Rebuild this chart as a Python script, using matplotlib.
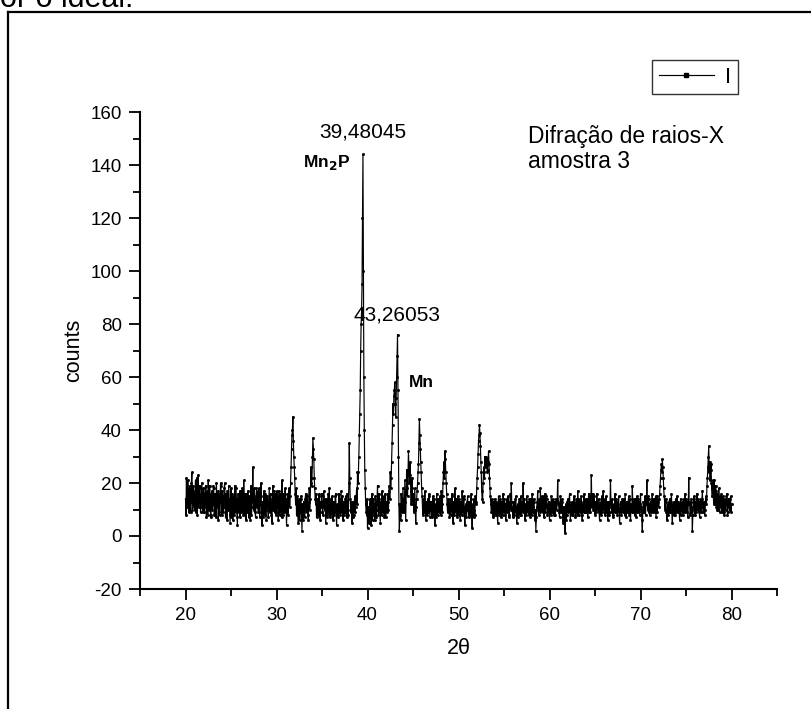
import numpy as np
import matplotlib
matplotlib.use("Agg")
import matplotlib.pyplot as plt
from matplotlib.lines import Line2D

plt.rcParams['font.family'] = ['Liberation Sans', 'DejaVu Sans']
plt.rcParams['axes.unicode_minus'] = False

# 2-theta grid start / step (degrees); readings every 0.05 deg
two_theta_start = 20.0
two_theta_step = 0.05

# intensity read at whole tenths (20.0, 20.1, ... 80.0), one row per degree
counts_tenths = [
    14, 22, 11, 17, 9, 19, 13, 24, 12, 16,
    10, 21, 15, 8, 23, 13, 18, 11, 20, 9,
    16, 12, 19, 7, 14, 21, 10, 15, 8, 17,
    12, 18, 9, 14, 20, 11, 6, 16, 13, 19,
    8, 15, 11, 20, 7, 13, 17, 10, 14, 5,
    18, 11, 6, 15, 19, 9, 13, 4, 16, 12,
    7, 17, 10, 14, 21, 8, 12, 16, 9, 13,
    15, 6, 19, 11, 26, 10, 14, 7, 18, 12,
    9, 16, 12, 20, 4, 13, 17, 8, 15, 11,
    14, 7, 18, 10, 13, 5, 19, 12, 9, 16,
    11, 15, 6, 17, 10, 13, 21, 8, 14, 12,
    9, 4, 16, 12, 18, 15, 26, 38, 45, 30,
    22, 12, 8, 15, 5, 11, 9, 14, 2, 10,
    13, 7, 16, 9, 12, 6, 18, 14, 26, 22,
    37, 29, 18, 12, 7, 14, 10, 16, 6, 11,
    13, 8, 17, 10, 5, 14, 9, 12, 18, 7,
    11, 15, 6, 13, 9, 16, 4, 12, 10, 14,
    8, 17, 11, 6, 13, 9, 15, 7, 12, 10,
    35, 14, 9, 5, 12, 8, 15, 11, 18, 24,
    24, 38, 55, 80, 95, 144, 60, 25, 12, 8,
    3, 11, 7, 14, 4, 16, 9, 12, 6, 13,
    10, 19, 8, 14, 5, 12, 17, 9, 15, 11,
    7, 13, 16, 10, 19, 24, 22, 35, 50, 53,
    58, 45, 60, 76, 30, 2, 12, 16, 9, 18,
    14, 21, 6, 25, 15, 32, 20, 28, 12, 22,
    16, 9, 18, 5, 14, 20, 27, 44, 33, 24,
    15, 8, 12, 17, 6, 11, 14, 9, 16, 10,
    13, 7, 15, 11, 4, 12, 16, 8, 14, 10,
    12, 17, 9, 20, 28, 32, 24, 16, 9, 13,
    7, 14, 10, 16, 5, 12, 18, 9, 11, 15,
    8, 13, 6, 11, 17, 9, 14, 4, 12, 10,
    15, 7, 12, 9, 16, 3, 11, 14, 8, 13,
    18, 26, 36, 42, 34, 24, 14, 20, 26, 30,
    26, 29, 25, 32, 22, 15, 9, 13, 7, 11,
    14, 8, 12, 5, 15, 10, 13, 7, 11, 16,
    9, 12, 6, 14, 10, 13, 8, 16, 20, 11,
    7, 13, 10, 15, 5, 12, 9, 14, 11, 8,
    13, 20, 10, 6, 12, 15, 9, 11, 14, 7,
    12, 16, 9, 13, 6, 2, 11, 17, 8, 14,
    18, 10, 15, 12, 7, 16, 11, 14, 9, 13,
    6, 12, 15, 9, 13, 8, 11, 14, 10, 21,
    12, 7, 15, 9, 13, 5, 10, 1, 12, 8,
    14, 10, 16, 6, 11, 13, 8, 15, 12, 9,
    11, 17, 8, 13, 10, 15, 6, 12, 16, 9,
    14, 11, 7, 16, 12, 9, 23, 13, 10, 15,
    8, 12, 16, 10, 14, 6, 11, 13, 9, 17,
    12, 8, 15, 10, 6, 13, 9, 21, 11, 14,
    7, 12, 16, 9, 13, 10, 15, 5, 11, 8,
    14, 10, 12, 16, 7, 13, 9, 15, 11, 6,
    12, 19, 9, 14, 11, 7, 15, 10, 13, 8,
    16, 11, 2, 13, 9, 15, 12, 21, 10, 14,
    8, 13, 11, 16, 9, 14, 12, 7, 15, 13,
    11, 16, 22, 27, 29, 22, 15, 10, 13, 6,
    12, 9, 14, 10, 16, 5, 11, 13, 8, 12,
    15, 9, 12, 6, 14, 10, 13, 8, 11, 16,
    10, 13, 7, 22, 12, 9, 14, 2, 11, 15,
    8, 12, 16, 10, 13, 7, 14, 11, 17, 9,
    13, 10, 15, 19, 26, 34, 28, 25, 20, 18,
    15, 21, 12, 17, 10, 14, 18, 9, 13, 16,
    11, 15, 8, 14, 12, 16, 9, 13, 10, 15,
    12,
]

# intensity read at the half-steps (20.05, 20.15, ... 79.95)
counts_halves = [
    8, 13, 21, 10, 18, 9, 20, 10, 19, 11,
    17, 9, 22, 14, 11, 19, 9, 16, 12, 18,
    9, 18, 11, 17, 8, 13, 19, 7, 16, 10,
    19, 8, 16, 7, 12, 17, 13, 8, 20, 9,
    17, 9, 18, 12, 16, 6, 11, 19, 8, 14,
    7, 16, 13, 8, 12, 18, 7, 14, 9, 17,
    14, 9, 18, 8, 12, 16, 6, 11, 17, 7,
    10, 15, 8, 17, 13, 18, 9, 15, 11, 17,
    18, 7, 15, 9, 11, 7, 10, 16, 6, 15,
    10, 13, 9, 16, 8, 14, 10, 17, 14, 8,
    17, 9, 14, 8, 16, 7, 12, 16, 9, 18,
    14, 10, 8, 17, 11, 20, 33, 40, 36, 26,
    16, 18, 13, 9, 14, 6, 15, 8, 12, 6,
    9, 14, 10, 15, 8, 13, 10, 20, 19, 30,
    33, 22, 14, 16, 11, 8, 15, 9, 13, 16,
    9, 15, 11, 14, 12, 7, 16, 8, 11, 14,
    8, 10, 12, 8, 15, 10, 11, 7, 16, 9,
    13, 9, 15, 12, 8, 14, 10, 16, 8, 20,
    22, 10, 13, 11, 7, 13, 9, 14, 12, 20,
    30, 46, 70, 85, 120, 100, 40, 18, 9, 14,
    8, 5, 12, 9, 11, 6, 14, 8, 15, 7,
    14, 12, 16, 9, 13, 8, 11, 14, 7, 16,
    12, 9, 13, 17, 14, 18, 28, 42, 46, 55,
    50, 52, 68, 55, 12, 8, 6, 11, 14, 10,
    9, 13, 16, 18, 24, 26, 23, 17, 18, 13,
    12, 14, 10, 11, 17, 24, 35, 38, 28, 18,
    10, 14, 9, 11, 13, 8, 10, 15, 7, 13,
    9, 12, 8, 14, 10, 7, 11, 12, 9, 15,
    8, 12, 15, 24, 22, 29, 20, 12, 14, 10,
    12, 8, 15, 9, 13, 8, 11, 14, 7, 10,
    14, 9, 13, 8, 10, 15, 8, 11, 7, 13,
    10, 13, 8, 14, 9, 12, 7, 10, 15, 12,
    22, 31, 38, 39, 28, 17, 13, 24, 22, 27,
    30, 24, 28, 27, 18, 12, 14, 9, 13, 8,
    10, 13, 9, 12, 8, 14, 9, 13, 8, 12,
    14, 8, 11, 9, 15, 7, 12, 10, 13, 8,
    11, 8, 14, 9, 11, 7, 13, 8, 15, 12,
    9, 12, 14, 10, 8, 11, 13, 8, 10, 14,
    8, 11, 14, 9, 10, 7, 13, 10, 12, 9,
    12, 14, 9, 15, 11, 9, 15, 8, 12, 10,
    10, 8, 11, 14, 9, 13, 8, 12, 14, 13,
    9, 12, 10, 14, 8, 11, 7, 9, 6, 13,
    9, 13, 10, 12, 8, 10, 13, 9, 7, 14,
    8, 11, 14, 9, 13, 8, 11, 9, 10, 13,
    9, 14, 12, 9, 15, 13, 11, 16, 12, 9,
    13, 9, 11, 13, 9, 12, 8, 15, 12, 10,
    14, 11, 9, 13, 10, 8, 12, 13, 9, 8,
    11, 9, 12, 14, 8, 12, 9, 10, 13, 12,
    9, 14, 8, 11, 12, 9, 13, 8, 14, 10,
    9, 13, 12, 8, 14, 11, 9, 14, 9, 12,
    10, 6, 9, 11, 13, 8, 14, 12, 15, 9,
    12, 9, 14, 10, 12, 9, 15, 11, 9, 14,
    14, 19, 25, 24, 26, 18, 13, 14, 9, 10,
    8, 13, 9, 13, 9, 12, 8, 11, 14, 9,
    11, 13, 9, 11, 8, 12, 9, 14, 9, 11,
    14, 9, 12, 13, 8, 13, 10, 8, 14, 10,
    13, 9, 11, 14, 9, 12, 9, 14, 11, 12,
    8, 14, 12, 22, 30, 24, 21, 27, 15, 21,
    12, 14, 19, 11, 16, 10, 12, 15, 11, 9,
    14, 9, 13, 10, 15, 8, 14, 11, 14, 9,
]

x_ticks = [20, 30, 40, 50, 60, 70, 80]
y_ticks = [-20, 0, 20, 40, 60, 80, 100, 120, 140, 160]
peak_labels = ["39,48045", "43,26053"]
phase_labels = ["Mn$_{\\mathbf{2}}$P", "Mn"]

counts = np.empty(len(counts_tenths) + len(counts_halves))
counts[0::2] = counts_tenths
counts[1::2] = counts_halves
two_theta = two_theta_start + two_theta_step * np.arange(len(counts))

W, H = 811, 709
fig = plt.figure(figsize=(W / 100, H / 100), dpi=100)
ax = fig.add_axes([140 / W, 1 - 589 / H, (777 - 140) / W, (589 - 112) / H])

ax.plot(two_theta, counts, color='black', linewidth=0.85,
        marker='s', markersize=1.0, label='I')

ax.set_xlim(15, 85)
ax.set_ylim(-20, 160)
ax.set_xticks(x_ticks)
ax.set_xticks([15, 25, 35, 45, 55, 65, 75, 85], minor=True)
ax.set_yticks(y_ticks)
ax.set_yticks([-10, 10, 30, 50, 70, 90, 110, 130, 150], minor=True)
ax.spines['top'].set_visible(False)
ax.spines['right'].set_visible(False)
for s in ('left', 'bottom'):
    ax.spines[s].set_linewidth(1.5)
ax.tick_params(which='major', direction='out', length=8, width=1.3,
               labelsize=13.5, pad=5)
ax.tick_params(which='minor', direction='out', length=5, width=1.3)

ax.set_xlabel('2θ', fontsize=15.5, labelpad=10)
ax.set_ylabel('counts', fontsize=15.5, labelpad=5)

ax.text(39.48, 149, peak_labels[0], fontsize=15, ha='center', va='bottom')
ax.text(35.55, 137.5, phase_labels[0], fontsize=12.5, fontweight='bold',
        ha='center', va='bottom')
ax.text(43.26, 80, peak_labels[1], fontsize=15, ha='center', va='bottom')
ax.text(45.9, 55, phase_labels[1], fontsize=12.5, fontweight='bold',
        ha='center', va='bottom')
ax.text(57.6, 155, 'Difração de raios-X\namostra 3', fontsize=16.5,
        ha='left', va='top', linespacing=1.1)

leg = ax.legend(loc='upper right', bbox_to_anchor=(738 / W, 1 - 60 / H),
                bbox_transform=fig.transFigure, frameon=True, fancybox=False,
                fontsize=16, handlelength=2.5, handletextpad=0.5,
                borderpad=0.3, borderaxespad=0, markerscale=2.2)
leg.get_frame().set_edgecolor('black')
leg.get_frame().set_linewidth(1.0)

# outer page frame and clipped document text
fig.add_artist(Line2D([8 / W, 8 / W], [0, 1 - 12 / H], color='black',
                      linewidth=1.6, transform=fig.transFigure))
fig.add_artist(Line2D([8 / W, 1], [1 - 12 / H, 1 - 12 / H], color='black',
                      linewidth=1.6, transform=fig.transFigure))
fig.text(0.0, 1 - 7 / H, 'or o ideal.', fontsize=22, va='baseline', ha='left')

fig.savefig('out.png', dpi=100)
